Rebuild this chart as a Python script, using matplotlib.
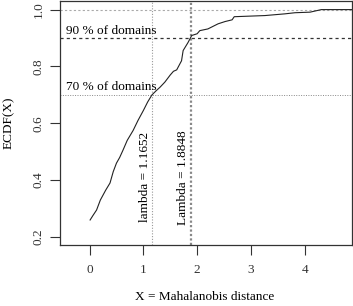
import matplotlib
matplotlib.use("Agg")
import matplotlib.pyplot as plt

# ECDF curve
x_vals = [0.01, 0.06, 0.13, 0.20, 0.30, 0.38, 0.44, 0.50, 0.56, 0.62, 0.70, 0.81, 0.90, 1.00,
          1.08, 1.16, 1.24, 1.31, 1.40, 1.50, 1.56, 1.62, 1.71, 1.74, 1.83, 1.90,
          2.00, 2.05, 2.20, 2.39, 2.52, 2.65, 2.69, 3.26, 3.63, 3.82, 4.10, 4.31, 4.90]
y_vals = [0.26, 0.275, 0.295, 0.33, 0.365, 0.39, 0.43, 0.46, 0.48, 0.505, 0.54, 0.575, 0.61, 0.645,
          0.675, 0.70, 0.715, 0.727, 0.745, 0.77, 0.783, 0.788, 0.82, 0.856, 0.884, 0.909,
          0.915, 0.926, 0.932, 0.95, 0.958, 0.964, 0.975, 0.979, 0.985, 0.989, 0.991, 1.0, 1.0]

lambda1 = 1.1652
lambda2 = 1.8848
hlines = [1.0, 0.9, 0.7]
hlabels = ["90 % of domains", "70 % of domains"]
xticks = [0, 1, 2, 3, 4]
yticks = [0.2, 0.4, 0.6, 0.8, 1.0]

plt.rcParams['font.family'] = ['Liberation Serif', 'DejaVu Serif']

fig = plt.figure(figsize=(3.53, 3.06), dpi=100)
W, H = 353, 306
ax = fig.add_axes([60 / W, (H - 245) / H, 292 / W, 244.5 / H])

ax.set_xlim(-0.55, 4.88)
ax.set_ylim(0.172, 1.032)

ax.axhline(hlines[0], color='#aaaaaa', lw=0.8, ls=(0, (2, 2)), zorder=1)
ax.axhline(hlines[1], color='#333333', lw=0.9, ls=(0, (2.5, 2.5)), zorder=1)
ax.axhline(hlines[2], color='#888888', lw=0.7, ls=(0, (1, 1.5)), zorder=1)
ax.axvline(lambda1, color='#999999', lw=0.8, ls=(0, (1, 1.5)), zorder=1)
ax.axvline(lambda2, color='#888888', lw=1.6, ls=(0, (1, 1)), zorder=1)

ax.plot(x_vals, y_vals, color='#222222', lw=0.8, zorder=3)

ax.text(-0.44, 0.905, hlabels[0], fontsize=9.5, ha='left', va='bottom')
ax.text(-0.44, 0.705, hlabels[1], fontsize=9.5, ha='left', va='bottom')
ax.text(lambda1 - 0.03, 0.41, f"lambda = {lambda1}", fontsize=9.5, rotation=90,
        ha='right', va='center')
ax.text(lambda2 - 0.03, 0.41, f"Lambda = {lambda2}", fontsize=9.5, rotation=90,
        ha='right', va='center')

ax.set_xticks(xticks)
ax.set_xticklabels([str(t) for t in xticks])
ax.set_yticks(yticks)
ax.set_yticklabels([f"{t:.1f}" for t in yticks], rotation=90, va='center')
ax.tick_params(direction='out', length=7, width=0.8, labelsize=9.5, colors='#333333',
               pad=4)
ax.tick_params(axis='x', pad=7)
for s in ax.spines.values():
    s.set_linewidth(0.9)
    s.set_color('#333333')

fig.text(205 / W, 1 - 297 / H, "X = Mahalanobis distance", fontsize=9.5,
         ha='center', va='center')
fig.text(9 / W, 1 - 123 / H, "ECDF(X)", fontsize=9.5, rotation=90,
         ha='center', va='center')

fig.savefig("out.png", dpi=100)
